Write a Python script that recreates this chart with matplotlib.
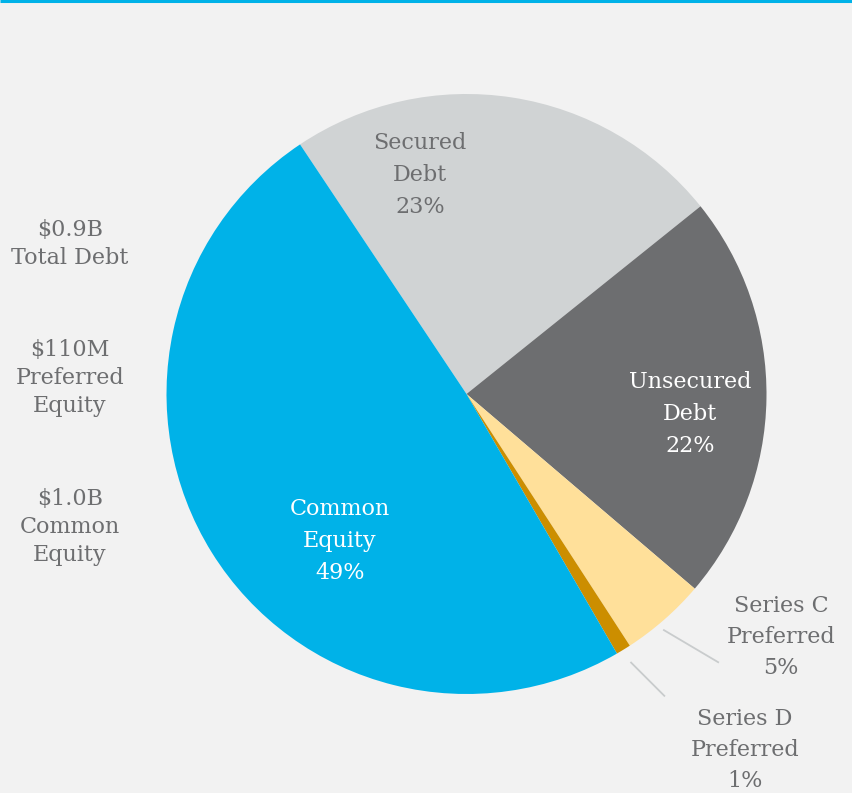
import numpy as np
import matplotlib
matplotlib.use("Agg")
import matplotlib.pyplot as plt

categories = ["Secured\nDebt", "Unsecured\nDebt", "Series C\nPreferred", "Series D\nPreferred", "Common\nEquity"]
shares = [23.6, 22.0, 4.6, 0.8, 49.0]
pct_labels = ["23%", "22%", "5%", "1%", "49%"]
colors = ["#d0d3d4", "#6d6e70", "#ffe09a", "#cc8e00", "#00b2e8"]
side_labels = ["$0.9B\nTotal Debt", "$110M\nPreferred\nEquity", "$1.0B\nCommon\nEquity"]

W, H = 853, 793
fig = plt.figure(figsize=(W / 100, H / 100), dpi=100)
fig.patch.set_facecolor("#f2f2f2")
ax = fig.add_axes([0, 0, 1, 1])

cx, cy, R = 466.5, H - 394, 300
wedges, _ = ax.pie(shares, colors=colors, startangle=123.7, counterclock=False,
                   center=(cx, cy), radius=R, frame=True,
                   wedgeprops=dict(linewidth=0))
ax.set_xlim(0, W)
ax.set_ylim(0, H)
ax.set_aspect("equal")
ax.axis("off")

font = "DejaVu Serif"
fs = 16
gray = "#6d6e70"

# top rule
ax.plot([0, W], [H - 1, H - 1], color="#00b2e8", lw=2.2, solid_capstyle="butt")

# inner labels
inner = {0: ((420, H - 175), gray), 1: ((690, H - 414), "white"), 4: ((340, H - 541), "white")}
for i, ((x, y), c) in inner.items():
    ax.text(x, y, categories[i] + "\n" + pct_labels[i], ha="center", va="center",
            color=c, fontsize=fs, family=font, linespacing=1.58)

# outer labels with leader lines (start near wedge edge, then slanted outward)
outer = {2: ((781, H - 637), 1.026, -50.1, -30.6, 63), 3: ((745, H - 750), 1.05, -58.5, -45.0, 47)}
for i, ((x, y), r0, a0, ang, length) in outer.items():
    mid = np.deg2rad(a0)
    x0, y0 = cx + r0 * R * np.cos(mid), cy + r0 * R * np.sin(mid)
    a = np.deg2rad(ang)
    ax.plot([x0, x0 + length * np.cos(a)], [y0, y0 + length * np.sin(a)],
            color="#c9cccd", lw=1.3)
    ax.text(x, y, categories[i] + "\n" + pct_labels[i], ha="center", va="center",
            color=gray, fontsize=fs, family=font, linespacing=1.55)

# side labels
for (y, t) in zip([H - 244, H - 378, H - 527], side_labels):
    ax.text(70, y, t, ha="center", va="center", color=gray, fontsize=fs,
            family=font, linespacing=1.38)

fig.savefig("out.png", dpi=100, facecolor=fig.get_facecolor())
